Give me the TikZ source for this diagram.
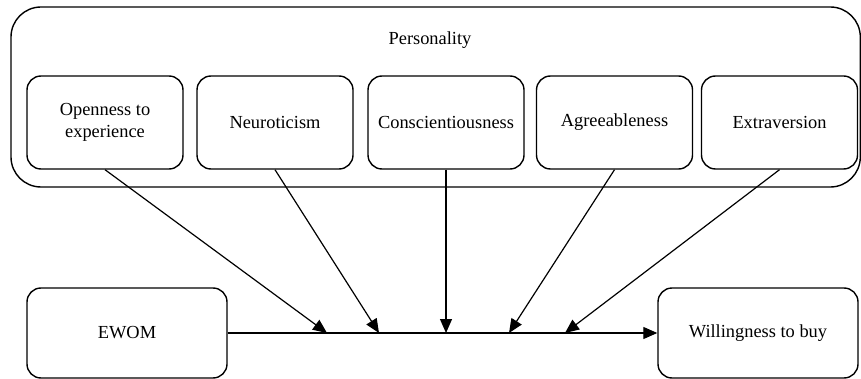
\documentclass[tikz,border=0pt]{standalone}
\usepackage{fontspec}
\setmainfont{Liberation Serif}
\usetikzlibrary{arrows.meta}

\begin{document}
\begin{tikzpicture}[x=0.5pt,y=-0.5pt,every node/.style={font=\fontsize{9.2}{11}\selectfont},trait/.style={draw, line width=0.7pt, align=center, rounded corners=7pt, minimum width=78pt, minimum height=46.5pt},outcome/.style={trait, minimum width=100pt, minimum height=45pt},link/.style={-{Triangle[length=7pt,width=6pt]}, line width=0.6pt}]
\useasboundingbox (0,0) rectangle (861,379);
\draw[line width=0.7pt, rounded corners=15pt] (11,7) rectangle (860.3,187);
\node(pers) at (430,40) {Personality};
\node[trait](open) at (105,122.5) {Openness to\\experience};
\node[trait](neuro) at (275,122.5) {Neuroticism};
\node[trait](consc) at (446,122.5) {Conscientiousness};
\node[trait](agree) at (614.5,122.5) {Agreeableness};
\node[trait](extra) at (779.5,122.5) {Extraversion};
\node[outcome](ewom) at (127,333) {EWOM};
\node[outcome](will) at (758,333) {Willingness to buy};
% moderating effects on the link
\coordinate (m1) at (327,333);
\coordinate (m2) at (379,333);
\coordinate (m3) at (446,333);
\coordinate (m4) at (509,333);
\coordinate (m5) at (565,333);
\draw[link] (ewom) -- (will);
\foreach \src/\dst in {open/m1,neuro/m2,consc/m3,agree/m4,extra/m5}
  \draw[link] (\src.south) -- (\dst);
\end{tikzpicture}
\end{document}
